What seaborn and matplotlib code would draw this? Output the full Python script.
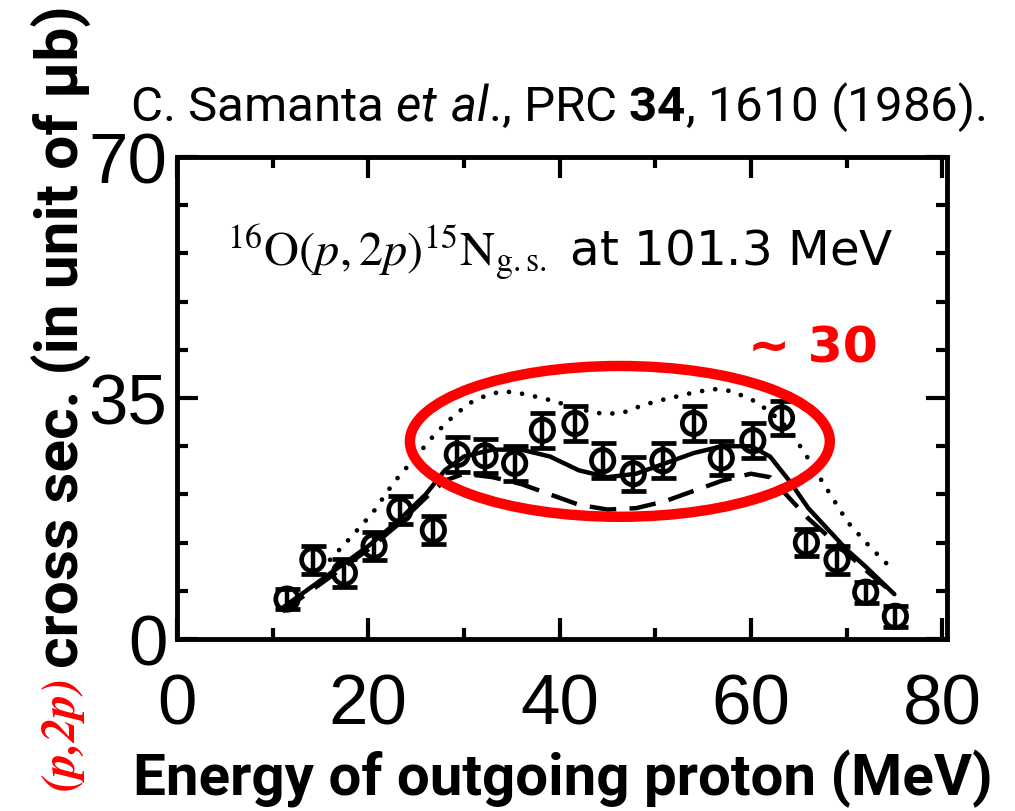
import matplotlib
matplotlib.use("Agg")
import matplotlib.pyplot as plt
import seaborn as sns
from matplotlib.patches import Ellipse
from matplotlib import font_manager

# Measured 16O(p,2p)15N(g.s.) energy-sharing cross sections
energy = [11.5, 14.2, 17.5, 20.6, 23.3, 26.8, 29.3, 32.2, 35.3, 38.2, 41.6,
          44.5, 47.7, 50.8, 54.0, 56.9, 60.2, 63.2, 65.8, 69.0, 72.0, 75.1]
xsec = [5.8, 11.5, 9.6, 13.5, 18.7, 15.8, 26.8, 26.6, 25.5, 30.3, 31.3,
        25.9, 24.0, 25.9, 31.3, 26.3, 28.8, 32.1, 14.0, 11.5, 6.8, 3.3]
xsec_err = [1.5, 2.0, 2.0, 2.0, 2.0, 2.0, 2.5, 2.5, 2.5, 2.5, 2.5,
            2.5, 2.5, 2.5, 2.5, 2.5, 2.5, 2.5, 2.0, 2.0, 1.5, 1.5]

# Calculations (solid, dashed, dotted)
solid_e = [11, 14, 17, 20, 23, 26, 28, 30, 33, 36, 39, 42, 45, 48, 51, 54,
           57, 60, 62, 64, 66, 68, 70, 72, 75]
solid_xs = [4.5, 7.5, 10.5, 13.5, 17.0, 21.0, 24.5, 26.5, 27.5, 27.5, 26.5,
            24.5, 23.5, 24.0, 25.5, 27.0, 28.0, 28.0, 26.5, 23.0, 19.0, 16.0,
            13.0, 10.5, 6.5]
dash_e = [11, 14, 17, 20, 23, 26, 28, 30, 33, 36, 39, 42, 45, 48, 51, 54,
          57, 60, 62, 64, 66, 68, 70, 72, 75]
dash_xs = [4.0, 7.0, 10.0, 13.0, 16.5, 20.5, 23.0, 24.0, 23.5, 22.5, 21.0,
           19.5, 18.8, 19.0, 20.0, 21.5, 23.0, 24.0, 23.5, 20.5, 17.5, 15.0,
           12.5, 10.0, 6.5]
dot_e = [16, 18, 20.5, 22.7, 25, 27, 28.7, 30.5, 32.2, 34, 35.8, 37.5, 39.3,
         42, 44.5, 46.5, 48, 50, 51.6, 54, 56.1, 58, 60.3, 62, 63.8, 65.5,
         67.4, 70.1, 72.5, 74.8]
dot_xs = [11.5, 14.5, 18.4, 22.8, 26.5, 29.8, 32.1, 34.2, 35.3, 36.0, 35.7,
          35.2, 34.6, 33.4, 32.7, 32.8, 33.6, 34.5, 35.0, 35.8, 36.3, 36.0,
          34.6, 33.0, 30.7, 27.3, 23.0, 17.0, 13.3, 10.1]

x_ticks = [0, 20, 40, 60, 80]
x_minor = [10, 30, 50, 70]
y_ticks = [0, 35, 70]
y_minor = [7, 14, 21, 28, 42, 49, 56, 63]

W, H = 1015, 812

sns.set_theme(style="ticks")
installed = {f.name for f in font_manager.fontManager.ttflist}
NARROW = next(f for f in ["Liberation Sans Narrow", "Roboto", "DejaVu Sans"]
              if f in installed)
TICKFONT = next(f for f in ["Liberation Sans", "DejaVu Sans"] if f in installed)
plt.rcParams["font.family"] = ["DejaVu Sans"]
plt.rcParams.update({
    "mathtext.fontset": "custom",
    "mathtext.rm": NARROW,
    "mathtext.it": f"{NARROW}:italic",
    "mathtext.bf": f"{NARROW}:bold",
})


def fx(px):
    return px / W


def fy(py):
    return 1 - py / H


fig = plt.figure(figsize=(W / 100, H / 100), dpi=100)
fig.patch.set_facecolor("white")
ax = fig.add_axes([fx(177), fy(640), (947 - 177) / W, (640 - 158) / H])
ax.set_facecolor("white")

# theory curves
sns.lineplot(x=dot_e, y=dot_xs, ax=ax, color="black", lw=3.4,
             linestyle=(0, (0.01, 2.8)), dash_capstyle="round",
             estimator=None, sort=False, zorder=2)
sns.lineplot(x=dash_e, y=dash_xs, ax=ax, color="black", lw=3.2,
             linestyle=(0, (6, 3)), estimator=None, sort=False, zorder=2)
sns.lineplot(x=solid_e, y=solid_xs, ax=ax, color="black", lw=3.2,
             estimator=None, sort=False, zorder=3)

# data with error bars
ax.errorbar(energy, xsec, yerr=xsec_err, fmt="none", ecolor="black",
            elinewidth=3.2, capsize=9, capthick=3.4, zorder=4)
sns.scatterplot(x=energy, y=xsec, ax=ax, marker="o", s=260,
                facecolors="none", edgecolor="black", linewidth=3.4,
                zorder=5)

# highlight of the plateau
ax.add_patch(Ellipse((46.3, 28.7), 43.9, 21.9, fill=False,
                     edgecolor="#ff0000", lw=7.5, zorder=6))

ax.set_xlim(0, 80.5)
ax.set_ylim(0, 70)
ax.set_xticks(x_ticks)
ax.set_xticks(x_minor, minor=True)
ax.set_yticks(y_ticks)
ax.set_yticks(y_minor, minor=True)
ax.set_xticklabels([str(v) for v in x_ticks])
ax.set_yticklabels([str(v) for v in y_ticks])
ax.set_xlabel("")
ax.set_ylabel("")
ax.tick_params(which="both", direction="in", top=True, right=True,
               width=3, color="black")
ax.tick_params(which="major", length=15)
ax.tick_params(which="minor", length=8)
ax.tick_params(axis="x", which="major", pad=24, labelsize=51)
ax.tick_params(axis="y", which="major", pad=7, labelsize=51)
for lab in ax.get_xticklabels() + ax.get_yticklabels():
    lab.set_fontfamily(TICKFONT)
    lab.set_color("black")
for sp in ax.spines.values():
    sp.set_linewidth(3.5)
    sp.set_color("black")
    sp.set_visible(True)

# text elements
cite = fig.text(fx(130), fy(121),
                r"C. Samanta $\mathit{et\ al}$., PRC $\mathbf{34}$, 1610 (1986).",
                fontfamily=NARROW, fontsize=36, va="baseline", ha="left",
                math_fontfamily="custom", color="black")
title = fig.text(fx(227), fy(267),
                 r"$^{16}\mathrm{O}(p,2p)^{15}\mathrm{N}_{\mathrm{g.s.}}$ at 101.3 MeV",
                 fontfamily="DejaVu Sans", fontsize=34, va="baseline",
                 ha="left", math_fontfamily="stix", color="black")
approx = fig.text(fx(813), fy(363), "~ 30", color="#ff0000", weight="bold",
                  fontfamily="DejaVu Sans", fontsize=37, ha="center",
                  va="baseline")
xlab = fig.text(fx(133), fy(795), "Energy of outgoing proton (MeV)",
                fontfamily=NARROW, weight="bold", fontsize=38, va="baseline",
                ha="left", color="black")
ylab_red = fig.text(fx(62), fy(790), "(p,2p)", fontfamily="STIXGeneral",
                    weight="bold", style="italic", color="#ff0000",
                    rotation=90, ha="center", va="bottom", fontsize=34)

fig.canvas.draw()
renderer = fig.canvas.get_renderer()


def fit(t, target, use_height=False):
    bb = t.get_window_extent(renderer)
    cur = bb.height if use_height else bb.width
    t.set_fontsize(t.get_fontsize() * target / cur)


fit(cite, 855)
fit(title, 668)
fit(approx, 130)
fit(xlab, 860)
fig.canvas.draw()
red_top = ylab_red.get_window_extent(renderer).y1
ylab_black = fig.text(fx(62), (red_top + 8) / H, "cross sec. (in unit of μb)",
                      fontfamily=NARROW, weight="bold", rotation=90,
                      ha="center", va="bottom", fontsize=40, color="black")
fig.canvas.draw()
fit(ylab_black, H - (red_top + 8) - 6, use_height=True)

fig.savefig("out.png", dpi=100, facecolor="white")
